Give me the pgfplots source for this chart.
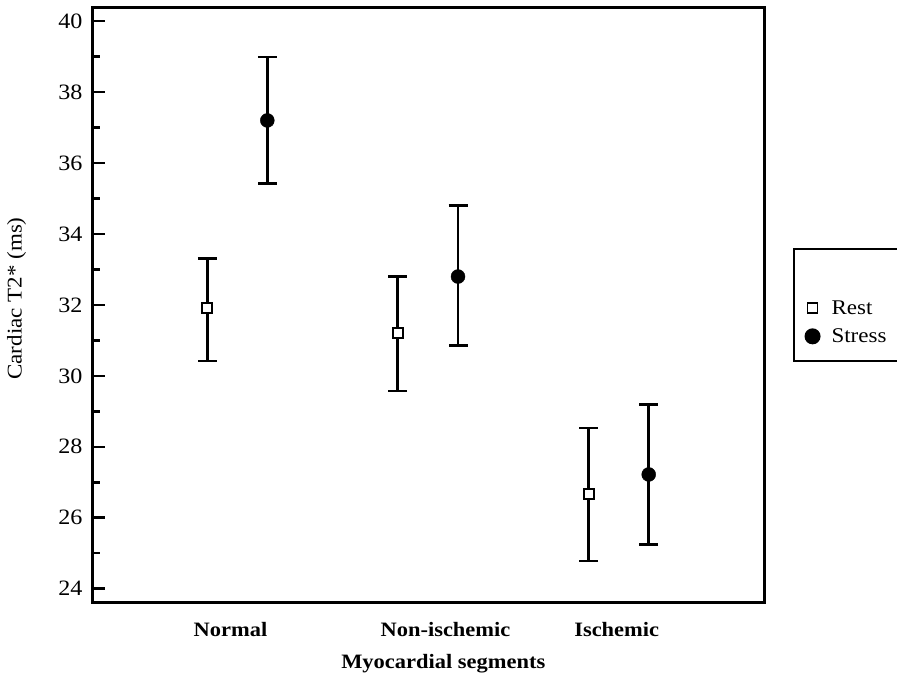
\documentclass[border=0pt]{standalone}
\usepackage{pgfplots}
\pgfplotsset{compat=1.18}
\usepackage{fontspec}
\setmainfont{Liberation Serif}[FakeStretch=1.1]
\begin{document}
\begin{tikzpicture}
\begin{axis}[
  at={(0,0)}, anchor=south west,
  scale only axis, width=671.6bp, height=594.7bp,
  xmin=92.7, xmax=764.3, ymin=23.605, ymax=40.37,
  axis line style={line width=3bp},
  xtick={230.5,445.5,616.7},
  xticklabels={Normal,Non-ischemic,Ischemic},
  xtick style={draw=none},
  xticklabel style={font=\bfseries\fontsize{20.5}{24}\selectfont, anchor=base, yshift=-34bp, inner sep=0pt},
  ytick={24,26,...,40},
  minor ytick={25,27,...,39},
  ytick pos=left, tick align=inside,
  major tick length=12bp, minor tick length=7bp,
  tick style={line width=2.5bp, black},
  yticklabel style={font=\fontsize{22}{24}\selectfont, anchor=east, inner sep=0pt, xshift=-10bp},
  /pgf/number format/assume math mode=true,
  ylabel={Cardiac T2* (ms)},
  ylabel style={at={(axis description cs:-0.1135,0.5115)}, anchor=center, font=\fontsize{21}{24}\selectfont},
  xlabel={Myocardial segments},
  xlabel style={at={(axis description cs:0.522,-0.1103)}, anchor=base, font=\bfseries\fontsize{20.5}{24}\selectfont},
  legend style={at={(axis description cs:1.0428,0.5964)}, anchor=north west, draw=black, line width=2bp,
    font=\fontsize{21}{24}\selectfont, inner xsep=10bp, inner ysep=15bp, row sep=9bp, column sep=10bp},
  legend cell align=left,
  clip=false,
]
\addlegendimage{empty legend}
\addlegendentry{\rule{0pt}{20bp}}
\addplot[only marks, mark=square*, mark size=5bp, mark options={fill=white, draw=black, line width=1.7bp},
  error bars/.cd, y dir=both, y explicit,
  error bar style={line width=2.7bp, black},
  error mark options={line width=2.7bp, mark size=9.5bp, black, rotate=90}]
coordinates {
  (207.3,31.91) += (0,1.39) -= (0,1.49)
  (397.7,31.20) += (0,1.60) -= (0,1.63)
  (588.7,26.67) += (0,1.86) -= (0,1.89)
};
\addlegendentry{Rest}
\addplot[only marks, mark=*, mark size=7bp, mark options={fill=black, draw=black},
  error bars/.cd, y dir=both, y explicit,
  error bar style={line width=2.7bp, black},
  error mark options={line width=2.7bp, mark size=9.5bp, black, rotate=90}]
coordinates {
  (267.3,37.20) += (0,1.79) -= (0,1.78)
  (458.0,32.80) += (0,2.00) -= (0,1.95)
  (648.7,27.22) += (0,1.98) -= (0,1.98)
};
\addlegendentry{Stress}
\end{axis}
\pgfresetboundingbox
\useasboundingbox (-92.7bp,-76.3bp) rectangle (804.3bp,602.7bp);
\end{tikzpicture}
\end{document}
